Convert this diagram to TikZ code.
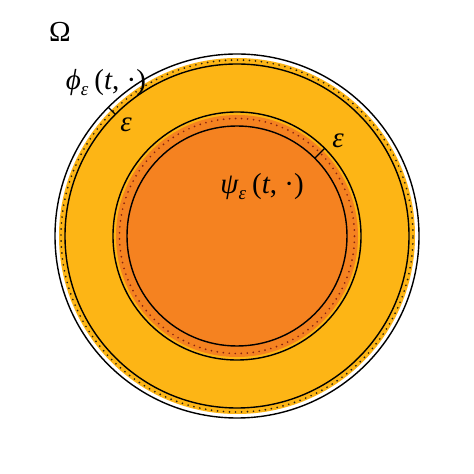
\documentclass[tikz,border=0pt]{standalone}
\usepackage{fontspec}
\setmainfont{Liberation Serif}
\definecolor{gold}{HTML}{FDB515}
\definecolor{orng}{HTML}{F58220}
\definecolor{dotdark}{HTML}{2A2010}
\definecolor{dotred}{HTML}{8A2410}
\tikzset{
  ring/.style={draw=black, line width=1.4pt},
  dotring/.style={line width=1.9pt, dash pattern=on 0pt off 6pt, line cap=round},
  tick/.style={draw=black, line width=1.4pt},
  lbl/.style={inner sep=0pt, font=\fontsize{29}{31}\selectfont}
}
\begin{document}
\begin{tikzpicture}[x=1pt,y=1pt]
\useasboundingbox (0,0) rectangle (474,474);
\fill[white] (0,0) rectangle (474,474);
\begin{scope}[shift={(237,238)}]
  \fill[gold] (0,0) circle (178);
  \draw[dotring, draw=dotdark] (0,0) circle (176);
  \draw[ring] (0,0) circle (182);
  \draw[ring] (0,0) circle (172);
  \draw[ring] (0,0) circle (124);
  \fill[orng] (0,0) circle (121);
  \draw[dotring, draw=dotred] (0,0) circle (117.5);
  \draw[ring] (0,0) circle (110);
  \coordinate (a1) at (135:172);
  \coordinate (a2) at (135:182);
  \coordinate (b1) at (45:110);
  \coordinate (b2) at (45:124);
\end{scope}
\draw[tick] (a1) -- (a2);
\draw[tick] (b1) -- (b2);
\node[lbl] (omega) at (60,442) {Ω};
\node[lbl] (phi) at (106,391) {\textit{ϕ}\raisebox{-6pt}{\fontsize{19}{21}\selectfont\textit{ε}}\hspace{6pt}(\textit{t}, ·)};
\node[lbl] (eps1) at (126,349) {\textit{ε}};
\node[lbl] (eps2) at (338,333) {\textit{ε}};
\node[lbl] (psi) at (262,287) {\textit{ψ}\raisebox{-6pt}{\fontsize{19}{21}\selectfont\textit{ε}}\hspace{6pt}(\textit{t}, ·)};
\end{tikzpicture}
\end{document}
